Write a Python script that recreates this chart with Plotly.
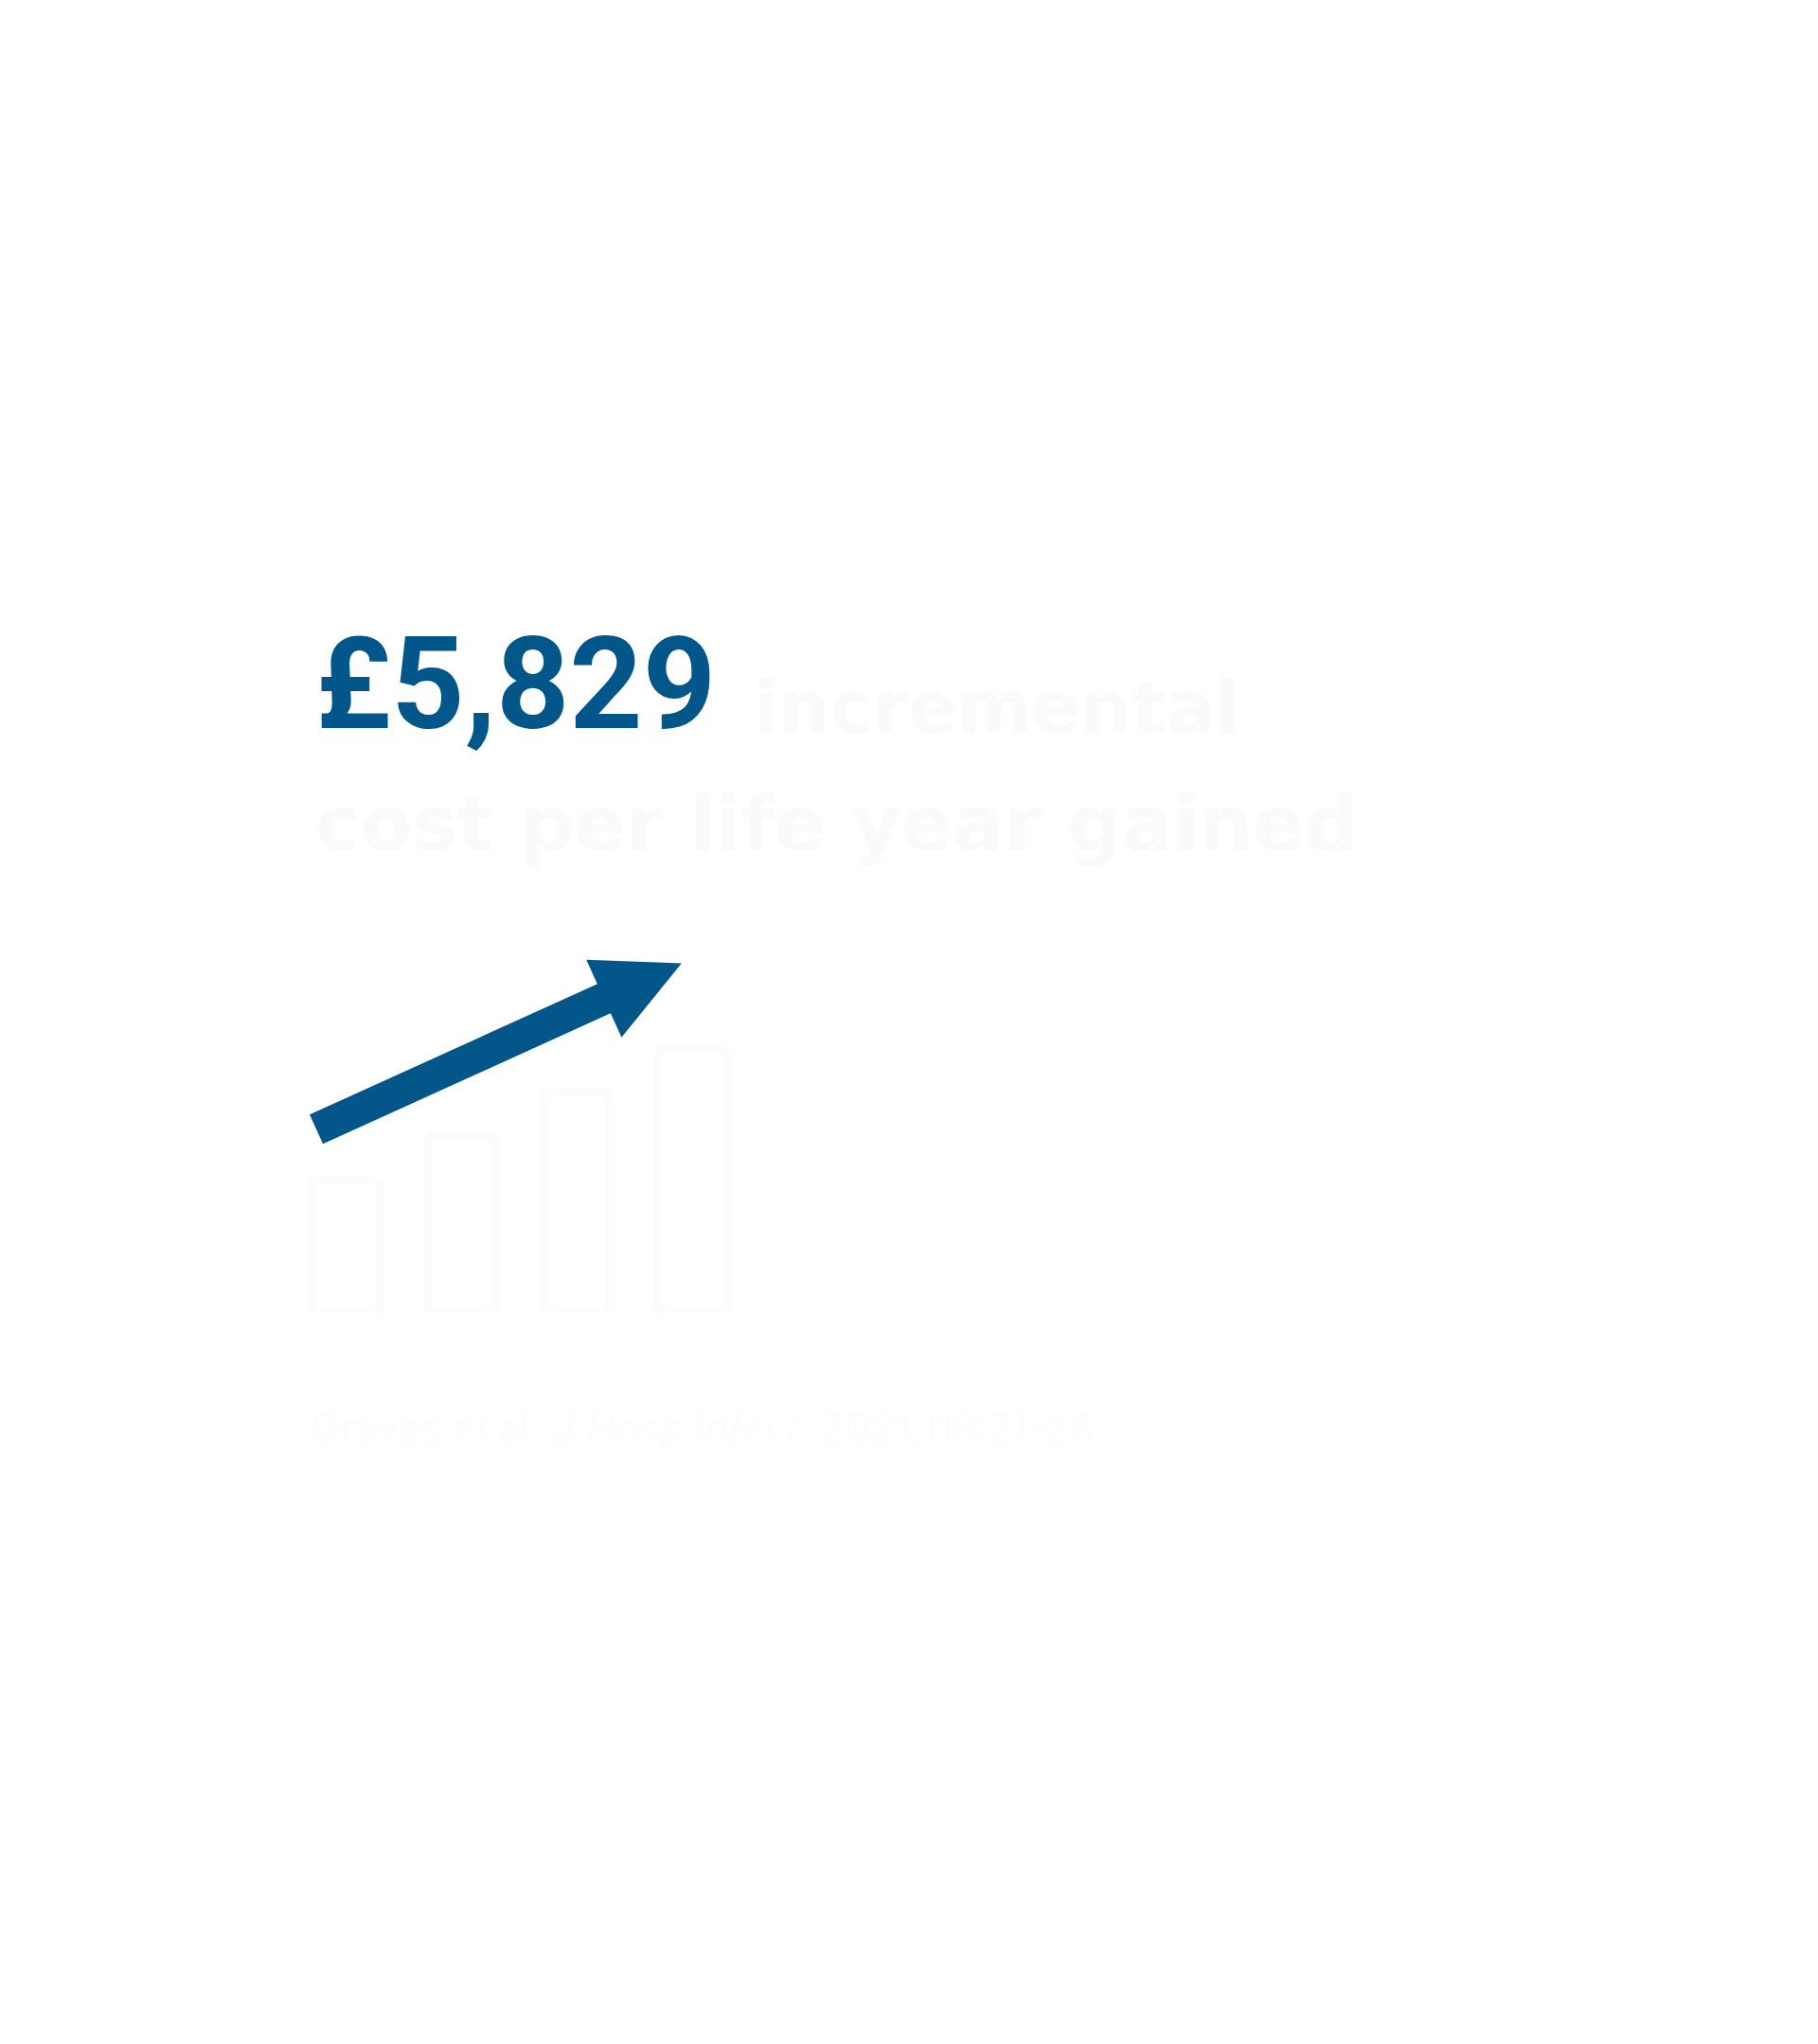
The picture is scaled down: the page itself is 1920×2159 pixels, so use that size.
import plotly.graph_objects as go

# Data
bar_pos = [0, 1, 2, 3]
bar_height = [3, 4, 5, 6]          # rising bars of the icon
trend_x = [-0.266, 2.95]           # arrow tail / tip (category units)
trend_y = [4.14, 7.93]

headline_value = "£5,829"
headline_rest = "incremental"
headline_line2 = "cost per life year gained"
source_text = "Graves et al. <i>J Hosp Infect.</i> 2021;116:21-28."

BLUE = "#02568a"
W, H = 1920, 2159


def along(t):
    # point part way along the trend arrow
    return (trend_x[0] + t * (trend_x[1] - trend_x[0]),
            trend_y[0] + t * (trend_y[1] - trend_y[0]))


def px_x(p):
    return p / W


def px_y(p):
    return 1 - p / H


fig = go.Figure()

fig.add_trace(go.Bar(
    x=bar_pos, y=bar_height,
    marker=dict(color="white", line=dict(color="#fcfcfc", width=9)),
    hoverinfo="skip",
))

# arrow: shaft + head
shaft_end = along(0.89)
fig.add_annotation(
    x=shaft_end[0], y=shaft_end[1], ax=trend_x[0], ay=trend_y[0],
    xref="x", yref="y", axref="x", ayref="y",
    text="", showarrow=True,
    arrowhead=0, arrowwidth=34, arrowcolor=BLUE,
)
head_pt = along(0.987)
head_back = along(0.9)
fig.add_annotation(
    x=head_pt[0], y=head_pt[1], ax=head_back[0], ay=head_back[1],
    xref="x", yref="y", axref="x", ayref="y",
    text="", showarrow=True,
    arrowhead=2, arrowwidth=2, arrowsize=9, arrowcolor=BLUE,
)

fig.add_annotation(x=px_x(331), y=px_y(723), xref="paper", yref="paper",
                   xanchor="left", yanchor="middle", showarrow=False,
                   text=headline_value,
                   font=dict(family="Roboto", size=135, color=BLUE, weight=700))
fig.add_annotation(x=px_x(794), y=px_y(747), xref="paper", yref="paper",
                   xanchor="left", yanchor="middle", showarrow=False,
                   text=headline_rest,
                   font=dict(family="DejaVu Sans", size=76, color="#fafafa", weight=700))
fig.add_annotation(x=px_x(331), y=px_y(870), xref="paper", yref="paper",
                   xanchor="left", yanchor="middle", showarrow=False,
                   text=headline_line2,
                   font=dict(family="DejaVu Sans", size=80, color="#fafafa", weight=700))
fig.add_annotation(x=px_x(327), y=px_y(1507), xref="paper", yref="paper",
                   xanchor="left", yanchor="middle", showarrow=False,
                   text=source_text,
                   font=dict(family="Inter", size=42, color="#fdfdfd", weight=300))

fig.update_layout(
    width=W, height=H,
    margin=dict(l=0, r=0, t=0, b=0),
    paper_bgcolor="white", plot_bgcolor="white",
    showlegend=False,
    bargap=0.42, barcornerradius=6,
    xaxis=dict(range=[-0.5, 3.5], domain=[304 / W, 792 / W], visible=False,
               fixedrange=True),
    yaxis=dict(range=[0, 9], domain=[px_y(1388), px_y(965)], visible=False,
               fixedrange=True),
)

fig.write_html("out.html", config=dict(displayModeBar=False),
               post_script="document.body.style.margin='0px';")
